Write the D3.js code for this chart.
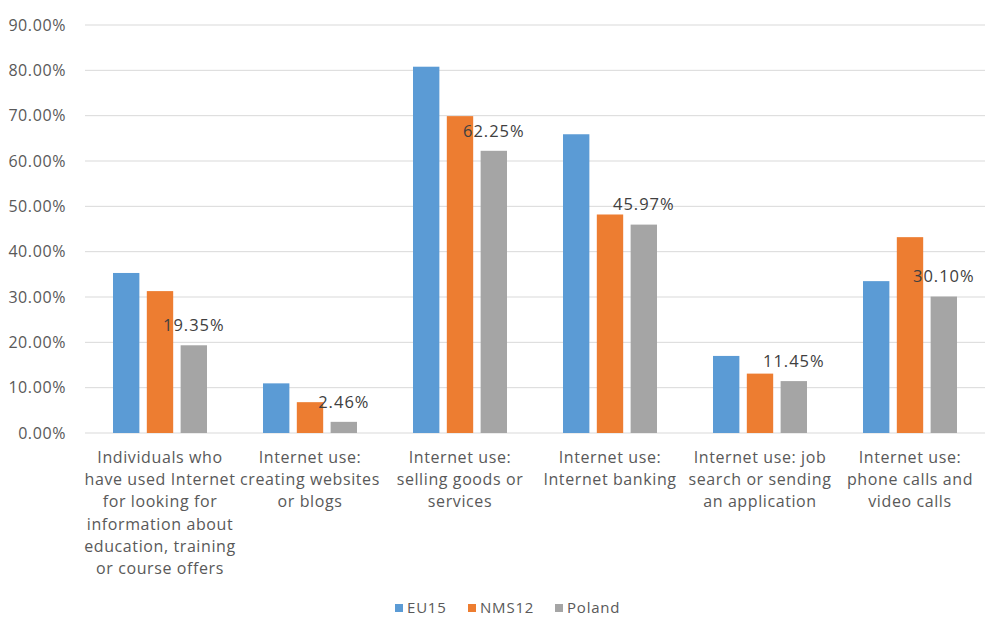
<!DOCTYPE html>
<html><head><meta charset="utf-8">
<script src="https://cdn.jsdelivr.net/npm/d3@7"></script>
<style>body{margin:0;background:#fff;} text{font-family:"Open Sans","Noto Sans",sans-serif;}</style>
</head><body><svg id="c" width="985" height="617"></svg>
<script>
const categories = [
  ["Individuals who","have used Internet","for looking for","information about","education, training","or course offers"],
  ["Internet use:","creating websites","or blogs"],
  ["Internet use:","selling goods or","services"],
  ["Internet use:","Internet banking"],
  ["Internet use: job","search or sending","an application"],
  ["Internet use:","phone calls and","video calls"]
];
const seriesNames = ["EU15","NMS12","Poland"];
const eu15 =   [35.3, 10.95, 80.8, 65.9, 17.0, 33.5];
const nms12 =  [31.3, 6.8, 69.9, 48.2, 13.1, 43.2];
const poland = [19.35, 2.46, 62.25, 45.97, 11.45, 30.10];
const yTicks = [0,10,20,30,40,50,60,70,80,90];
const colors = ["#5B9BD5","#ED7D31","#A5A5A5"];

const svg = d3.select("#c");
const pL = 85, pR = 985, pT = 25, pB = 433;
const x = d3.scaleBand().domain(d3.range(categories.length)).range([pL,pR]);
const y = d3.scaleLinear().domain([0,90]).range([pB,pT]);
const xs = d3.scaleBand().domain(d3.range(3)).range([x.bandwidth()/2-47, x.bandwidth()/2+47]).paddingInner(0.22);

svg.append("g").selectAll("line").data(yTicks).join("line")
  .attr("x1",pL).attr("x2",pR).attr("y1",d=>y(d)).attr("y2",d=>y(d))
  .attr("stroke","#D9D9D9").attr("stroke-width",1);

svg.append("g").selectAll("text").data(yTicks).join("text")
  .attr("x",66).attr("y",d=>y(d)).attr("dy","0.35em").attr("text-anchor","end")
  .attr("font-size",16).attr("letter-spacing",0.6).attr("fill","#595959").text(d=>d.toFixed(2)+"%");

const series = [eu15,nms12,poland];
series.forEach((vals,si)=>{
  svg.append("g").selectAll("rect").data(vals).join("rect")
    .attr("x",(d,i)=>x(i)+xs(si)).attr("width",xs.bandwidth())
    .attr("y",d=>y(d)).attr("height",d=>y(0)-y(d)).attr("fill",colors[si]);
});
svg.append("g").selectAll("text").data(poland).join("text")
  .attr("x",(d,i)=>x(i)+xs(2)+xs.bandwidth()/2).attr("y",d=>y(d)-20)
  .attr("dy","0.35em")
  .attr("text-anchor","middle").attr("font-size",16.5).attr("letter-spacing",1).attr("fill","#404040")
  .text(d=>d.toFixed(2)+"%");

const cg = svg.append("g").selectAll("text").data(categories).join("text")
  .attr("text-anchor","middle").attr("font-size",16).attr("letter-spacing",0.6).attr("fill","#595959");
cg.each(function(lines,i){
  d3.select(this).selectAll("tspan").data(lines).join("tspan")
    .attr("x",x(i)+x.bandwidth()/2).attr("y",(l,j)=>457+j*22.3).attr("dy","0.35em").text(l=>l);
});

const lg = svg.append("g");
const legX = [395, 468, 555];
seriesNames.forEach((n,i)=>{
  lg.append("rect").attr("x",legX[i]).attr("y",604).attr("width",8).attr("height",8).attr("fill",colors[i]);
  lg.append("text").attr("x",legX[i]+12).attr("y",608).attr("dy","0.35em").attr("font-size",15).attr("letter-spacing",0.8).attr("fill","#595959").text(n);
});
</script></body></html>
